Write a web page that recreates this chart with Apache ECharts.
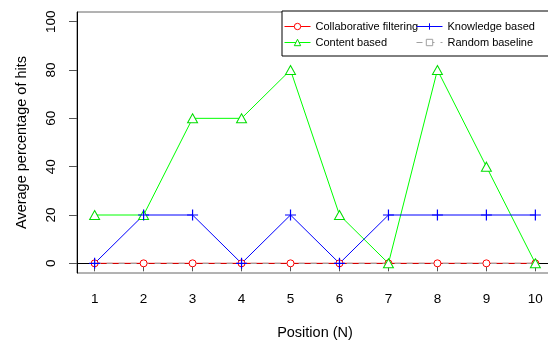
<!DOCTYPE html>
<html>
<head>
<meta charset="utf-8">
<script src="https://cdn.jsdelivr.net/npm/echarts@6/dist/echarts.min.js"></script>
<style>
html,body{margin:0;padding:0;background:#fff;}
#chart{width:548px;height:343px;}
</style>
</head>
<body>
<div id="chart"></div>
<script>
const positions = [1, 2, 3, 4, 5, 6, 7, 8, 9, 10];
const collaborative = [0, 0, 0, 0, 0, 0, 0, 0, 0, 0];
const contentBased = [20, 20, 60, 60, 80, 20, 0, 80, 40, 0];
const knowledgeBased = [0, 20, 20, 0, 20, 0, 20, 20, 20, 20];
const randomBaseline = [0, 0, 0, 0, 0, 0, 0, 0, 0, 0];
const yTicks = [0, 20, 40, 60, 80, 100];
const xTicks = [1, 2, 3, 4, 5, 6, 7, 8, 9, 10];

const pairs = arr => positions.map((p, i) => [p, arr[i]]);
const FONT = 'Liberation Sans, Arial, sans-serif';
const plus = 'path://M0,5L10,5M5,0L5,10';
const circle = 'path://M5,0A5,5 0 1,1 5,10A5,5 0 1,1 5,0Z';
const triangle = 'path://M5,0L10,9L0,9Z';
const square = 'path://M0,0L10,0L10,10L0,10Z';

const chart = echarts.init(document.getElementById('chart'), null, {renderer: 'canvas'});
chart.setOption({
  animation: false,
  backgroundColor: '#fff',
  textStyle: {fontFamily: FONT},
  grid: {left: 77, top: 12, width: 476, height: 261, show: true, borderColor: '#666', borderWidth: 1,
         containLabel: false, outerBoundsMode: 'none'},
  xAxis: {
    type: 'value', min: 0.64, max: 10.36,
    name: 'Position (N)', nameLocation: 'middle', nameGap: 52,
    nameTextStyle: {fontSize: 14.5, color: '#000', fontFamily: FONT},
    axisLine: {show: true, lineStyle: {color: '#000', width: 1}},
    axisTick: {show: true, length: 8, lineStyle: {color: '#555'}, customValues: xTicks},
    axisLabel: {fontSize: 13.5, color: '#000', margin: 19, customValues: xTicks, fontFamily: FONT},
    splitLine: {show: false}
  },
  yAxis: {
    type: 'value', min: -4, max: 104,
    name: 'Average percentage of hits', nameLocation: 'middle', nameGap: 48,
    nameTextStyle: {fontSize: 14.5, color: '#000', fontFamily: FONT},
    axisLine: {show: true, lineStyle: {color: '#000', width: 1}},
    axisTick: {show: true, length: 8, lineStyle: {color: '#555'}, customValues: yTicks},
    axisLabel: {fontSize: 13.5, color: '#000', margin: 19, rotate: 90, customValues: yTicks, fontFamily: FONT},
    splitLine: {show: false}
  },
  legend: [
    {
      left: 282, top: 11, orient: 'vertical', itemWidth: 26, itemHeight: 8, itemGap: 5,
      padding: [10, 300, 8, 2], borderColor: '#000', borderWidth: 1, backgroundColor: '#fff',
      textStyle: {fontSize: 11, color: '#000', fontFamily: FONT},
      lineStyle: {width: 1}, itemStyle: {borderWidth: 1},
      data: ['Collaborative filtering', 'Content based']
    },
    {
      left: 414, top: 11, orient: 'vertical', itemWidth: 26, itemHeight: 8, itemGap: 5,
      padding: [10, 2, 8, 2],
      textStyle: {fontSize: 11, color: '#000', fontFamily: FONT},
      lineStyle: {width: 1}, itemStyle: {borderWidth: 1},
      data: ['Knowledge based', 'Random baseline']
    }
  ],
  series: [
    {
      name: 'Collaborative filtering', type: 'line', data: pairs(collaborative),
      symbol: circle, symbolSize: 7,
      lineStyle: {color: '#ff0000', width: 1},
      itemStyle: {color: '#ffffff', borderColor: '#ff0000', borderWidth: 1}
    },
    {
      name: 'Random baseline', type: 'line', data: pairs(randomBaseline),
      symbol: square, symbolSize: 6, showSymbol: false,
      lineStyle: {color: '#a0a0a0', width: 1.3, type: [6, 6]},
      itemStyle: {color: '#ffffff', borderColor: '#a0a0a0', borderWidth: 1}
    },
    {
      name: 'Content based', type: 'line', data: pairs(contentBased),
      symbol: triangle, symbolSize: [10, 9],
      lineStyle: {color: '#00ff00', width: 1},
      itemStyle: {color: '#ffffff', borderColor: '#00dd00', borderWidth: 1}
    },
    {
      name: 'Knowledge based', type: 'line', data: pairs(knowledgeBased),
      symbol: plus, symbolSize: 11,
      lineStyle: {color: '#0000ff', width: 1},
      itemStyle: {color: '#0000ff', borderColor: '#0000ff', borderWidth: 1.2}
    }
  ]
});
</script>
</body>
</html>
